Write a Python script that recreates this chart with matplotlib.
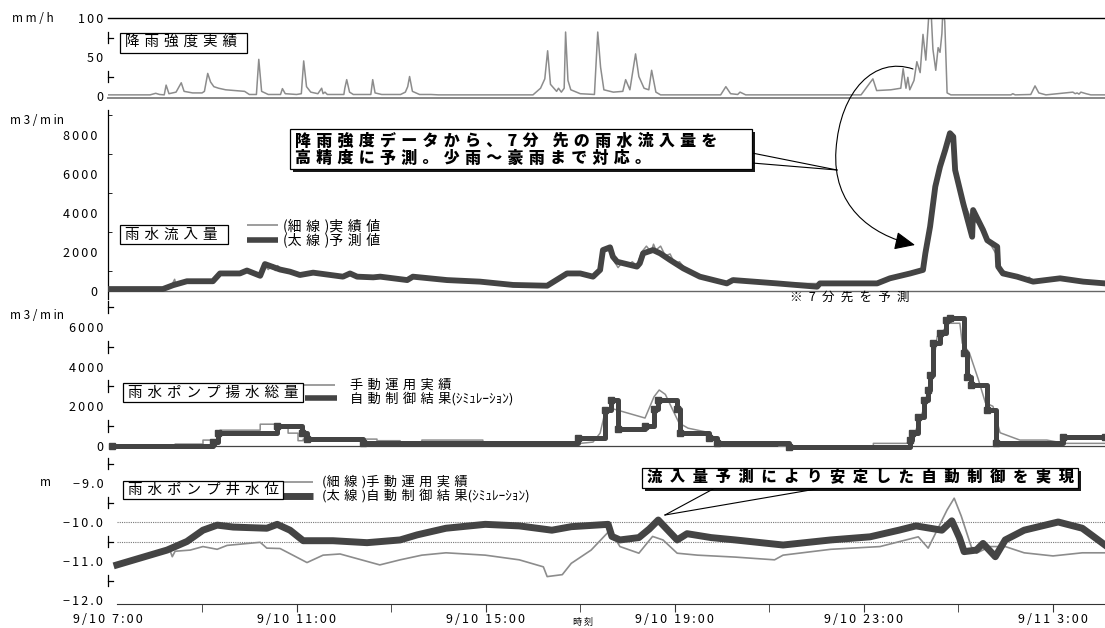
import matplotlib
matplotlib.use("Agg")
import matplotlib.pyplot as plt
import matplotlib.patheffects as pe
from matplotlib.lines import Line2D
from matplotlib.path import Path
from matplotlib.patches import FancyArrowPatch, Rectangle

plt.rcParams['font.family'] = ['Noto Sans CJK JP', 'DejaVu Sans']

# ---- data (hours after 9/10 0:00; 24+ = 9/11) ----
rain = [(7.0, 1.5), (7.9, 1.5), (8.02, 3.5), (8.1, 2), (8.2, 1.5), (8.24, 14), (8.3, 3),
        (8.45, 5), (8.56, 17), (8.62, 6), (8.8, 4), (9.0, 4), (9.05, 6), (9.12, 29),
        (9.18, 18), (9.25, 12), (9.35, 10), (9.5, 8), (9.7, 7), (9.9, 6), (10.0, 2),
        (10.15, 2), (10.2, 47), (10.26, 6), (10.4, 2), (10.66, 2), (10.7, 9.5), (10.76, 3),
        (11.0, 2), (11.1, 3), (11.15, 45), (11.21, 12), (11.3, 5), (11.45, 3), (11.53, 10),
        (11.56, 3), (11.6, 5), (11.65, 2), (12.0, 2), (12.02, 10), (12.06, 21), (12.12, 5),
        (12.2, 2), (12.57, 2), (12.61, 21), (12.66, 4), (12.8, 2), (13.2, 2), (13.3, 5),
        (13.35, 12), (13.39, 25), (13.45, 6), (13.6, 2), (13.84, 2), (14.0, 1.5),
        (16.0, 1.5), (16.16, 10), (16.25, 22), (16.31, 58), (16.37, 15), (16.5, 6),
        (16.54, 10), (16.6, 5), (16.66, 10), (16.69, 82), (16.74, 20), (16.8, 8), (17.0, 3),
        (17.3, 2), (17.37, 82), (17.43, 37), (17.5, 8), (17.7, 5), (17.9, 6), (17.96, 21),
        (18.05, 8), (18.17, 54), (18.24, 25), (18.35, 10), (18.45, 8), (18.51, 33),
        (18.6, 5), (18.7, 1.5), (19.97, 1.5), (20.08, 12), (20.18, 3), (20.33, 2),
        (20.38, 5), (20.5, 1.5), (22.94, 1.5), (23.19, 22), (23.27, 7), (23.57, 8),
        (23.78, 10), (23.83, 35), (23.89, 10), (23.93, 24), (23.97, 8), (24.06, 20),
        (24.12, 44), (24.19, 30), (24.25, 79), (24.31, 46), (24.38, 110), (24.42, 110),
        (24.46, 60), (24.52, 33), (24.57, 62), (24.61, 56), (24.65, 80), (24.67, 110),
        (24.71, 96), (24.76, 4), (24.84, 1.5), (26.11, 1.5), (26.15, 3), (26.2, 1.5),
        (26.53, 2), (26.62, 13), (26.7, 4), (26.85, 1.5), (27.42, 5), (27.47, 3),
        (27.51, 4), (27.55, 2.5), (27.59, 5), (27.7, 3), (27.8, 1.5), (28.1, 1.5)]

inflow_pred = [(7.0, 100), (8.17, 100), (8.39, 300), (8.68, 500), (9.23, 500), (9.38, 900),
               (9.8, 900), (9.95, 1050), (10.23, 780), (10.33, 1380), (10.65, 1100),
               (10.86, 990), (11.07, 820), (11.35, 940), (11.98, 735), (12.13, 900),
               (12.28, 735), (12.62, 700), (12.77, 735), (13.34, 560), (13.46, 735),
               (14.18, 560), (14.88, 480), (15.58, 310), (16.3, 270), (16.72, 900),
               (17.0, 900), (17.27, 735), (17.42, 1080), (17.48, 2100), (17.63, 2240),
               (17.69, 1760), (17.78, 1500), (18.2, 1250), (18.26, 1420), (18.33, 1930),
               (18.54, 2100), (18.69, 1930), (18.9, 1590), (19.18, 1160), (19.53, 735),
               (20.1, 390), (20.23, 560), (21.16, 390), (22.01, 220), (22.07, 390),
               (23.28, 390), (23.55, 650), (23.98, 900), (24.25, 1080), (24.3, 1930),
               (24.4, 3300), (24.51, 5350), (24.61, 6370), (24.72, 7230), (24.82, 8090),
               (24.89, 7910), (24.93, 6200), (25.1, 4500), (25.29, 2780), (25.31, 4150),
               (25.52, 3130), (25.61, 2600), (25.82, 2270), (25.84, 1250), (25.94, 900),
               (26.24, 735), (26.58, 480), (27.15, 650), (27.64, 480), (28.1, 390)]

inflow_actual = [(7.0, 80), (8.17, 80), (8.35, 250), (8.42, 600), (8.45, 300), (8.7, 500),
                 (9.2, 480), (9.38, 850), (9.8, 900), (9.95, 1000), (10.2, 800), (10.33, 1300),
                 (10.4, 1100), (10.5, 1350), (10.55, 1050), (10.6, 1300), (10.7, 1000),
                 (10.9, 950), (11.07, 800), (11.35, 900), (11.98, 700), (12.13, 850),
                 (12.28, 700), (12.77, 720), (13.34, 580), (13.46, 700), (14.18, 580),
                 (14.88, 470), (15.58, 300), (16.25, 250), (16.35, 350), (16.72, 850),
                 (17.0, 950), (17.27, 800), (17.42, 1200), (17.5, 2000), (17.6, 2100),
                 (17.7, 1600), (17.8, 1200), (17.9, 1500), (18.0, 1300), (18.1, 1500),
                 (18.2, 1300), (18.3, 2000), (18.4, 2300), (18.5, 2000), (18.55, 2400),
                 (18.6, 2100), (18.7, 2300), (18.8, 1800), (18.9, 1900), (19.0, 1400),
                 (19.1, 1500), (19.2, 1200), (19.53, 750), (20.1, 400), (20.23, 520),
                 (21.16, 400), (22.07, 380), (23.28, 400), (23.55, 680), (23.98, 950),
                 (24.25, 1100), (24.3, 1800), (24.4, 3400), (24.51, 5300), (24.61, 6400),
                 (24.72, 7300), (24.82, 8000), (24.89, 7800), (24.93, 6500), (25.1, 4600),
                 (25.29, 3600), (25.4, 3500), (25.52, 3200), (25.61, 2500), (25.7, 2300),
                 (25.82, 1800), (25.9, 1100), (26.24, 700), (26.4, 650), (26.5, 700),
                 (26.58, 450), (27.15, 620), (27.64, 450), (28.1, 380)]

pump_auto = [(7.1, 0), (9.23, 220), (9.34, 670), (10.59, 1000), (11.11, 670), (11.22, 350),
             (12.4, 135), (16.95, 390), (17.52, 1810), (17.65, 2300), (17.8, 840),
             (18.37, 1000), (18.56, 1850), (18.65, 2300), (19.05, 1850), (19.11, 670),
             (19.72, 390), (19.89, 135), (21.42, -60), (23.98, 300), (24.02, 670),
             (24.15, 1480), (24.27, 2300), (24.36, 2820), (24.4, 3580), (24.46, 5180),
             (24.61, 5680), (24.74, 6350), (24.82, 6450), (25.12, 4690), (25.18, 3490),
             (25.27, 3070), (25.61, 1810), (25.8, 135), (27.21, 470), (28.1, 470)]

pump_manual = [(7.1, 0), (8.43, 0), (8.43, 100), (9.02, 100), (9.02, 300), (9.38, 300),
               (9.38, 800), (10.23, 800), (10.23, 1100), (10.61, 1100), (10.61, 1050),
               (10.82, 1050), (10.82, 650), (11.03, 650), (11.03, 270), (11.14, 270),
               (11.14, 350), (12.7, 350), (12.7, 270), (13.19, 270), (13.19, 135),
               (13.65, 135), (13.65, 300), (14.94, 300), (14.94, 135), (17.0, 135),
               (17.27, 200), (17.42, 650), (17.52, 1660), (17.65, 1900), (17.8, 1800),
               (18.37, 1410), (18.56, 2480), (18.67, 2820), (18.8, 2600), (18.95, 1850),
               (19.09, 1160), (19.28, 900), (19.74, 670), (19.85, 300), (19.9, 135),
               (21.2, 135), (21.2, 0), (23.2, 0), (23.2, 135), (23.9, 135), (24.0, 300),
               (24.1, 800), (24.27, 1900), (24.46, 4000), (24.55, 5510), (24.69, 5850),
               (24.8, 6180), (25.03, 6180), (25.08, 5180), (25.23, 4700), (25.42, 3360),
               (25.57, 2180), (25.73, 2000), (25.88, 670), (26.3, 300), (26.87, 300),
               (27.25, 135), (28.1, 135)]

level_auto = [(7.2, -11.1), (8.26, -10.72), (8.68, -10.5), (9.02, -10.21), (9.32, -10.08),
              (9.66, -10.13), (10.37, -10.16), (10.59, -10.06), (10.86, -10.21),
              (11.14, -10.48), (11.77, -10.48), (12.49, -10.53), (13.19, -10.46),
              (13.55, -10.33), (14.16, -10.16), (14.99, -10.06), (15.71, -10.1),
              (16.4, -10.21), (16.81, -10.12), (17.59, -10.06), (17.67, -10.37),
              (17.84, -10.46), (18.24, -10.4), (18.46, -10.18), (18.65, -9.95),
              (19.05, -10.46), (19.26, -10.3), (19.77, -10.4), (20.28, -10.46),
              (21.29, -10.59), (22.3, -10.46), (23.13, -10.38), (23.74, -10.21),
              (24.1, -10.1), (24.65, -10.21), (24.86, -9.97), (25.02, -10.4),
              (25.12, -10.76), (25.38, -10.72), (25.52, -10.55), (25.78, -10.89),
              (25.99, -10.46), (26.39, -10.21), (27.11, -10.0), (27.62, -10.16),
              (28.1, -10.59)]

level_manual = [(7.2, -11.1), (8.11, -10.8), (8.32, -10.72), (8.37, -10.89), (8.43, -10.75),
                (8.75, -10.72), (9.02, -10.63), (9.32, -10.7), (9.53, -10.6), (10.23, -10.52),
                (10.37, -10.67), (10.65, -10.68), (10.92, -10.85), (11.22, -11.04),
                (11.56, -10.85), (11.92, -10.82), (12.76, -11.1), (13.19, -10.97),
                (13.65, -10.85), (14.16, -10.79), (14.99, -10.85), (15.71, -10.97),
                (16.22, -11.15), (16.3, -11.4), (16.62, -11.35), (16.81, -11.06),
                (17.23, -10.72), (17.63, -10.21), (17.84, -10.63), (18.24, -10.8),
                (18.53, -10.37), (18.75, -10.46), (19.05, -10.8), (19.48, -10.85),
                (20.28, -10.9), (21.11, -10.97), (21.29, -10.85), (22.3, -10.7),
                (23.34, -10.63), (24.15, -10.38), (24.36, -10.67), (24.76, -9.69),
                (24.91, -9.39), (25.06, -9.85), (25.27, -10.63), (25.38, -10.8),
                (25.67, -10.63), (25.99, -10.63), (26.39, -10.79), (27.0, -10.87),
                (27.62, -10.79), (28.1, -10.79)]

x_major = [7, 11, 15, 19, 23, 27]
x_labels = ['9/10 7:00', '9/10 11:00', '9/10 15:00', '9/10 19:00', '9/10 23:00', '9/11 3:00']
x_minor = [9, 13, 17, 21, 25]

THICK = '#444444'
THIN = '#8c8c8c'
W, H = 1105, 628

fig = plt.figure(figsize=(W / 100, H / 100), dpi=100)


def fx(x, y):
    return x / W, 1 - y / H


def ls(s, gap='\u2006'):
    # letter-spaced text, like the original print
    return gap.join(s)


def add_ax(top, bottom, left=107.5):
    ax = fig.add_axes([left / W, 1 - bottom / H, (W - left) / W, (bottom - top) / H])
    ax.set_xlim(7, 28.1)
    ax.patch.set_visible(False)
    for s in ax.spines.values():
        s.set_visible(False)
    ax.set_xticks([])
    ax.tick_params(axis='y', length=0, pad=3, labelsize=9)
    return ax


def yticks(ax, vals, texts):
    ax.set_yticks(vals)
    ax.set_yticklabels([ls(t) for t in texts])


def marks(ax, vals, half):
    tr = ax.get_yaxis_transform()
    for v in vals:
        ax.plot([0, 0], [v - half, v + half], color='k', lw=0.9, transform=tr, clip_on=False)
        ax.plot([0, 0.006], [v, v], color='k', lw=0.9, transform=tr, clip_on=False)


def unzip(pairs):
    return [p[0] for p in pairs], [p[1] for p in pairs]


def label(x, y, s, size=9, weight='normal', **kw):
    return fig.text(*fx(x, y), s, fontsize=size, fontweight=weight, va='center', ha='left', **kw)


def box(x0, y0, x1, y1, shadow=False):
    r = Rectangle(fx(x0, y1), (x1 - x0) / W, (y1 - y0) / H, transform=fig.transFigure,
                  facecolor='white', edgecolor='k', lw=0.9, zorder=5)
    if shadow:
        r.set_path_effects([pe.SimplePatchShadow(offset=(2, -2), shadow_rgbFace='k', alpha=0.9),
                            pe.Normal()])
    fig.add_artist(r)


def legline(x0, x1, y, color, lw):
    fig.add_artist(Line2D([x0 / W, x1 / W], [1 - y / H, 1 - y / H], color=color, lw=lw,
                          solid_capstyle='butt', transform=fig.transFigure))


sp = '\u2004'

# ---- panel 1: rainfall ----
ax1 = add_ax(18, 97.6)
ax1.set_ylim(-2, 100)
ax1.spines['top'].set_visible(True)
ax1.spines['top'].set_linewidth(1.0)
ax1.spines['bottom'].set_visible(True)
ax1.spines['bottom'].set_color('#888888')
ax1.spines['bottom'].set_linewidth(1.4)
t, v = unzip(rain)
ax1.plot(t, v, color=THIN, lw=1.1)
yticks(ax1, [0, 50, 100], ['0', '50', '100'])
marks(ax1, [25, 75], 7)

# ---- panel 2: inflow ----
ax2 = add_ax(109.6, 298.8)
ax2.set_ylim(-400, 9300)
ax2.spines['left'].set_visible(True)
ax2.spines['left'].set_linewidth(0.9)
yticks(ax2, [0, 2000, 4000, 6000, 8000], ['0', '2000', '4000', '6000', '8000'])
ax2.set_yticks(range(1000, 9001, 2000), minor=True)
ax2.tick_params(axis='y', which='minor', length=3, direction='in')
ax2.tick_params(axis='y', pad=7)
ax2.axhline(0, color='#666666', lw=1.0)
t, v = unzip(inflow_actual)
ax2.plot(t, v, color=THIN, lw=1.1, zorder=2)
t, v = unzip(inflow_pred)
ax2.plot(t, v, color=THICK, lw=4.2, zorder=3, solid_joinstyle='round')

# ---- panel 3: pump discharge ----
ax3 = add_ax(303, 454)
ax3.set_ylim(-400, 7200)
yticks(ax3, [0, 2000, 4000, 6000], ['0', '2000', '4000', '6000'])
marks(ax3, [1000, 3000, 5000, 7000], 300)
ax3.axhline(0, xmin=0.005, color='#444444', lw=0.9)
t, v = unzip(pump_manual)
ax3.plot(t, v, color=THIN, lw=1.1, zorder=2)
t, v = unzip(pump_auto)
ax3.plot(t, v, color=THICK, lw=3.6, drawstyle='steps-post', zorder=3)
ax3.plot(t, v, ls='none', marker='s', ms=4.5, color=THICK, zorder=3)

# ---- panel 4: well water level ----
ax4 = add_ax(459.6, 603.9)
ax4.set_ylim(-12.1, -8.4)
yticks(ax4, [-12, -11, -10, -9], ['\u221212.0', '\u221211.0', '\u221210.0', '\u22129.0'])
marks(ax4, [-11.5, -10.5, -9.5, -8.5], 0.15)
for yv in (-10.0, -10.5):
    ax4.axhline(yv, xmin=0.01, color='#777777', lw=0.8, ls=(0, (1, 1)))
ax4.spines['bottom'].set_visible(True)
ax4.spines['bottom'].set_color('#333333')
ax4.spines['bottom'].set_bounds(7.2, 28.1)
ax4.set_xticks(x_major)
ax4.set_xticklabels([ls(s) for s in x_labels])
ax4.set_xticks(x_minor, minor=True)
ax4.tick_params(axis='x', which='both', length=6, color='#333333', labelsize=9, pad=0.5)
ax4.xaxis.get_major_ticks()[0].tick1line.set_visible(False)
t, v = unzip(level_manual)
ax4.plot(t, v, color=THIN, lw=1.2, zorder=2)
t, v = unzip(level_auto)
ax4.plot(t, v, color=THICK, lw=5.0, zorder=3, solid_joinstyle='round')

# ---- unit labels ----
label(12, 18, 'm m / h', 8.5)
label(10, 120, 'm 3 / m in', 8.5)
label(10, 315, 'm 3 / m in', 8.5)
label(40, 483, 'm', 8.5)
label(573, 622, '時 刻', 6.5)

# ---- titles and legends ----
box(120, 33, 247, 53)
label(125, 43, sp.join('降雨強度実績'), 10.5, zorder=6)

box(120, 225, 228, 244)
label(125, 234.5, sp.join('雨水流入量'), 10.5, zorder=6)
legline(247, 278, 225, THIN, 1.2)
legline(247, 278, 240, THICK, 4.0)
label(283, 226, '(' + sp.join('細線') + sp + ')' + sp.join('実績値'), 10)
label(283, 240, '(' + sp.join('太線') + sp + ')' + sp.join('予測値'), 10)
label(790, 297, '\u2002'.join('※7分先を予測'), 9)

box(123, 383, 303, 402)
label(128, 392.5, sp.join('雨水ポンプ揚水総量'), 10.5, zorder=6)
legline(303, 335, 385, THIN, 1.2)
legline(305, 337, 398, THICK, 4.0)
label(350, 385, sp.join('手動運用実績'), 9.5)
label(350, 399, sp.join('自動制御結果') + '(ｼﾐｭﾚｰｼｮﾝ)', 9.5)

box(123, 481, 283, 499)
label(128, 490, sp.join('雨水ポンプ井水位'), 10.5, zorder=6)
legline(283, 313, 482, THIN, 1.2)
legline(283, 313, 496, THICK, 5.0)
label(322, 482, '(' + sp.join('細線') + sp + ')' + sp.join('手動運用実績'), 9.5)
label(322, 496, '(' + sp.join('太線') + sp + ')' + sp.join('自動制御結果') + '(ｼﾐｭﾚｰｼｮﾝ)', 9.5)

# ---- callout 1 ----
box(290, 129, 752, 169, shadow=True)
label(295, 149.5, sp.join('降雨強度データから、7分 先の雨水流入量を') + '\n'
      + sp.join('高精度に予測。少雨～豪雨まで対応。'), 11.5, 'heavy', zorder=6, linespacing=1.1)
for y0 in (153, 163):
    fig.add_artist(Line2D([752 / W, 837 / W], [1 - y0 / H, 1 - 170 / H], color='k', lw=0.8,
                          transform=fig.transFigure))

verts = [fx(913, 69), fx(875, 56), fx(840, 90), fx(836, 150),
         fx(832, 205), fx(870, 235), fx(915, 245)]
codes = [Path.MOVETO, Path.CURVE4, Path.CURVE4, Path.CURVE4,
         Path.CURVE4, Path.CURVE4, Path.CURVE4]
arrow = FancyArrowPatch(path=Path(verts, codes), arrowstyle='-|>,head_length=0.9,head_width=0.4',
                        mutation_scale=14, color='k', lw=0.8, transform=fig.transFigure)
fig.add_artist(arrow)

# ---- callout 2 ----
box(642, 468, 1078, 488, shadow=True)
label(647, 478, '\u2002'.join('流入量予測により安定した自動制御を実現'), 11, 'heavy', zorder=6)
for x0 in (715, 822):
    fig.add_artist(Line2D([x0 / W, 665 / W], [1 - 488 / H, 1 - 515 / H], color='k', lw=0.8,
                          transform=fig.transFigure))

fig.savefig('out.png', dpi=100)
